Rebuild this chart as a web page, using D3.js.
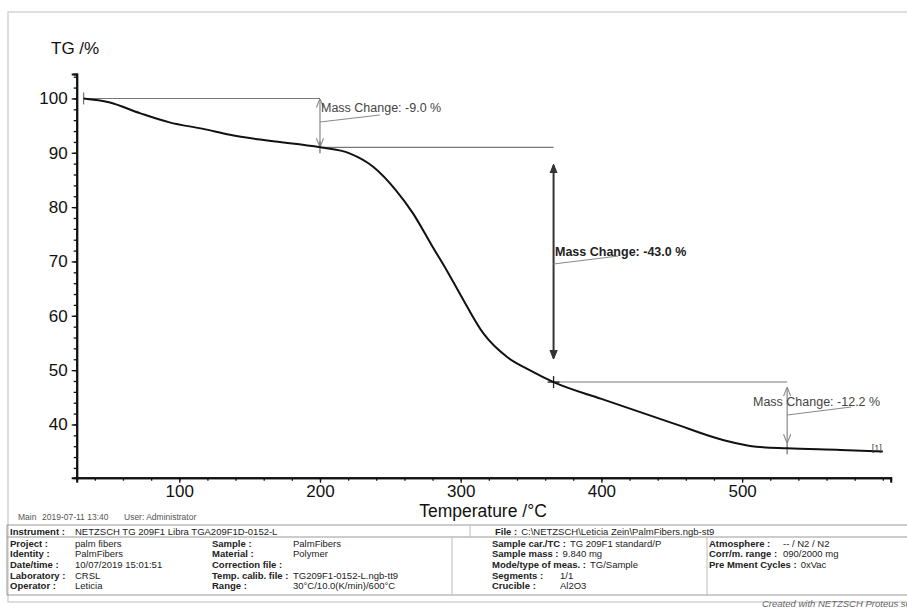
<!DOCTYPE html>
<html>
<head>
<meta charset="utf-8">
<script src="https://cdn.jsdelivr.net/npm/d3@7"></script>
<style>
  body { margin: 0; background: #fff; }
  svg { display: block; font-family: "Liberation Sans", Arial, sans-serif; }
</style>
</head>
<body>
<div class="container"></div>
<script>
// TG curve (temperature in degC, mass in %)
var temps = [32, 50, 72, 93, 117, 136, 164, 200, 221, 238, 254, 266, 280, 290, 300,
             316, 333, 349, 366, 400, 451, 487, 510, 532, 570, 600];
var tgVals = [100, 99.3, 97.3, 95.6, 94.4, 93.3, 92.2, 91.0, 89.9, 87.4, 83.1, 78.9, 72.7, 68.4, 63.8,
              56.8, 52.4, 50.0, 47.8, 44.7, 40.2, 37.1, 35.9, 35.6, 35.3, 35.0];

// step evaluation points and mass changes
var stepT = [32, 200, 366, 532];
var stepV = [100, 91.0, 47.8, 35.6];
var stepLabels = ["Mass Change: -9.0 %", "Mass Change: -43.0 %", "Mass Change: -12.2 %"];

var xTicks = [100, 200, 300, 400, 500];
var yTicks = [40, 50, 60, 70, 80, 90, 100];

// info table below the plot
var runInfo = ["Main", "2019-07-11 13:40", "User: Administrator"];
var headLeft = ["Instrument :", "NETZSCH TG 209F1 Libra TGA209F1D-0152-L"];
var headRight = ["File :", "C:\\NETZSCH\\Leticia Zein\\PalmFibers.ngb-st9"];
var col1 = [["Project :", "palm fibers"], ["Identity :", "PalmFibers"], ["Date/time :", "10/07/2019 15:01:51"],
            ["Laboratory :", "CRSL"], ["Operator :", "Leticia"]];
var col2 = [["Sample :", "PalmFibers"], ["Material :", "Polymer"], ["Correction file :", ""],
            ["Temp. calib. file :", "TG209F1-0152-L.ngb-tt9"], ["Range :", "30°C/10.0(K/min)/600°C"]];
var col3 = [["Sample car./TC :", "TG 209F1 standard/P"], ["Sample mass :", "9.840 mg"],
            ["Mode/type of meas. :", "TG/Sample"], ["Segments :", "1/1"], ["Crucible :", "Al2O3"]];
var col4 = [["Atmosphere :", "-- / N2 / N2"], ["Corr/m. range :", "090/2000 mg"],
            ["Pre Mment Cycles :", "0xVac"], ["", ""], ["", ""]];

var width = 907, height = 609;
var svg = d3.select(".container").append("svg")
    .attr("width", width).attr("height", height);

// outer frame
svg.append("rect").attr("x", 8).attr("y", 12).attr("width", 910).attr("height", 590)
    .attr("fill", "none").attr("stroke", "#d4d4d4").attr("stroke-width", 1.5);

var x = d3.scaleLinear().domain([27.1, 605.6]).range([76.7, 890.7]);
var y = d3.scaleLinear().domain([30.2, 104.5]).range([477.7, 74]);

// axes: majors with labels, minors without
var gy = svg.append("g").attr("transform", "translate(" + x.range()[0] + ",0)");
gy.call(d3.axisLeft(y).tickValues(d3.range(32, 105, 2)).tickSize(3).tickFormat(""));
gy.append("g").call(d3.axisLeft(y).tickValues(yTicks).tickSize(5).tickPadding(4));
gy.selectAll("path.domain").attr("stroke", "#111").attr("stroke-width", 2);
gy.selectAll("line").attr("stroke", "#111").attr("stroke-width", 1.3);
gy.selectAll("text").attr("font-size", 17).attr("fill", "#111");

var gx = svg.append("g").attr("transform", "translate(0," + y.range()[0] + ")");
gx.call(d3.axisBottom(x).tickValues(d3.range(40, 601, 20)).tickSize(3).tickFormat(""));
gx.append("g").call(d3.axisBottom(x).tickValues(xTicks).tickSize(5).tickPadding(2));
gx.selectAll("path.domain").attr("stroke", "#111").attr("stroke-width", 2);
gx.selectAll("line").attr("stroke", "#111").attr("stroke-width", 1.3);
gx.selectAll("text").attr("font-size", 17).attr("fill", "#111");

svg.append("text").attr("x", 51).attr("y", 54).attr("font-size", 17).attr("fill", "#111").text("TG /%");
svg.append("text").attr("x", 483).attr("y", 517).attr("font-size", 17.5).attr("fill", "#111")
    .attr("text-anchor", "middle").text("Temperature /°C");

// arrowheads
var defs = svg.append("defs");
function marker(id, color, filled, size) {
  var m = defs.append("marker").attr("id", id).attr("viewBox", "0 0 10 10")
      .attr("refX", 9).attr("refY", 5).attr("markerWidth", size).attr("markerHeight", size)
      .attr("markerUnits", "userSpaceOnUse").attr("orient", "auto-start-reverse");
  m.append("path").attr("d", filled ? "M0,1L10,5L0,9Z" : "M0,1L10,5L0,9")
      .attr("fill", filled ? color : "none").attr("stroke", color).attr("stroke-width", 1.2);
}
marker("ag", "#888", false, 9);
marker("ad", "#333", true, 9);

// horizontal reference lines between step points
var ann = svg.append("g");
for (var i = 0; i < stepLabels.length; i++) {
  ann.append("line")
      .attr("x1", x(stepT[i])).attr("x2", x(stepT[i + 1]))
      .attr("y1", y(stepV[i])).attr("y2", y(stepV[i]))
      .attr("stroke", "#777").attr("stroke-width", 1.1);
}

// vertical double arrows
var insets = [[1, 1], [18, 24], [6, 6]];
for (var i = 0; i < stepLabels.length; i++) {
  var big = i == 1;
  ann.append("line")
      .attr("x1", x(stepT[i + 1])).attr("x2", x(stepT[i + 1]))
      .attr("y1", y(stepV[i]) + insets[i][0]).attr("y2", y(stepV[i + 1]) - insets[i][1])
      .attr("stroke", big ? "#333" : "#888").attr("stroke-width", big ? 2 : 1.2)
      .attr("marker-start", big ? "url(#ad)" : "url(#ag)")
      .attr("marker-end", big ? "url(#ad)" : "url(#ag)");
}

// labels and leader lines
var labPos = [[321, 112, 0, 10, 60, 3], [555, 256, 0, 8, 65, 0], [753, 406, 34, 9, 64, 1]];
for (var i = 0; i < stepLabels.length; i++) {
  var p = labPos[i], ax = x(stepT[i + 1]);
  ann.append("line")
      .attr("x1", ax).attr("y1", p[1] + p[3])
      .attr("x2", ax + p[4]).attr("y2", p[1] + p[5])
      .attr("stroke", "#888").attr("stroke-width", 1);
  ann.append("text").attr("x", p[0]).attr("y", p[1])
      .attr("font-size", 12.5)
      .attr("font-weight", i == 1 ? "bold" : "normal")
      .attr("fill", i == 1 ? "#222" : "#444")
      .text(stepLabels[i]);
}

// the TG curve
var line = d3.line().x(function(d) { return x(d[0]); }).y(function(d) { return y(d[1]); })
    .curve(d3.curveMonotoneX);
svg.append("path").datum(d3.zip(temps, tgVals))
    .attr("d", line).attr("fill", "none").attr("stroke", "#111").attr("stroke-width", 2);

// step markers
stepT.forEach(function(t, i) {
  var cx = x(t), cy = y(stepV[i]);
  ann.append("line").attr("x1", cx).attr("x2", cx).attr("y1", cy - 6).attr("y2", cy + 6)
      .attr("stroke", i == 2 ? "#222" : "#777").attr("stroke-width", 1.3);
  if (i == 2)
    ann.append("line").attr("x1", cx - 6).attr("x2", cx + 6).attr("y1", cy).attr("y2", cy)
        .attr("stroke", "#222").attr("stroke-width", 1.3);
});

svg.append("text").attr("x", x(temps[temps.length - 1]) - 11).attr("y", y(tgVals[tgVals.length - 1]) - 1)
    .attr("font-size", 9).attr("fill", "#444").text("[1]");

// footer: run info and parameter table
var ft = svg.append("g").attr("font-size", 8.5).attr("fill", "#555");
[18, 42, 124].forEach(function(px, k) {
  ft.append("text").attr("x", px).attr("y", 520).text(runInfo[k]);
});

var tb = svg.append("g").attr("font-size", 9.5).attr("fill", "#222");
var tTop = 525, tHead = 537, tBot = 595, rowH = 10.7;
tb.append("rect").attr("x", 7).attr("y", tTop).attr("width", 910).attr("height", tBot - tTop)
    .attr("fill", "none").attr("stroke", "#999");
tb.append("line").attr("x1", 7).attr("x2", 917).attr("y1", tHead).attr("y2", tHead).attr("stroke", "#999");
[452, 707].forEach(function(vx) {
  tb.append("line").attr("x1", vx).attr("x2", vx).attr("y1", tHead).attr("y2", tBot)
      .attr("stroke", "#bbb");
});
tb.append("line").attr("x1", 470).attr("x2", 470).attr("y1", tTop).attr("y2", tHead).attr("stroke", "#bbb");

// value goes at its column, or just after the label when the label is long
function pair(lx, vx, yy, lab, val) {
  var t = tb.append("text").attr("x", lx).attr("y", yy).attr("font-weight", "bold").text(lab);
  var end = lx + t.node().getComputedTextLength() + 4;
  tb.append("text").attr("x", Math.max(vx, end)).attr("y", yy).text(val);
}
pair(10, 75, 534.5, headLeft[0], headLeft[1]);
pair(495, 520, 534.5, headRight[0], headRight[1]);
var cols = [[col1, 10, 75], [col2, 212, 293], [col3, 492, 560], [col4, 709, 783]];
cols.forEach(function(c) {
  c[0].forEach(function(r, j) {
    pair(c[1], c[2], 546.5 + j * rowH, r[0], r[1]);
  });
});

svg.append("text").attr("x", 762).attr("y", 607).attr("font-size", 9.5).attr("font-style", "italic")
    .attr("fill", "#666").text("Created with NETZSCH Proteus software");
</script>
</body>
</html>
